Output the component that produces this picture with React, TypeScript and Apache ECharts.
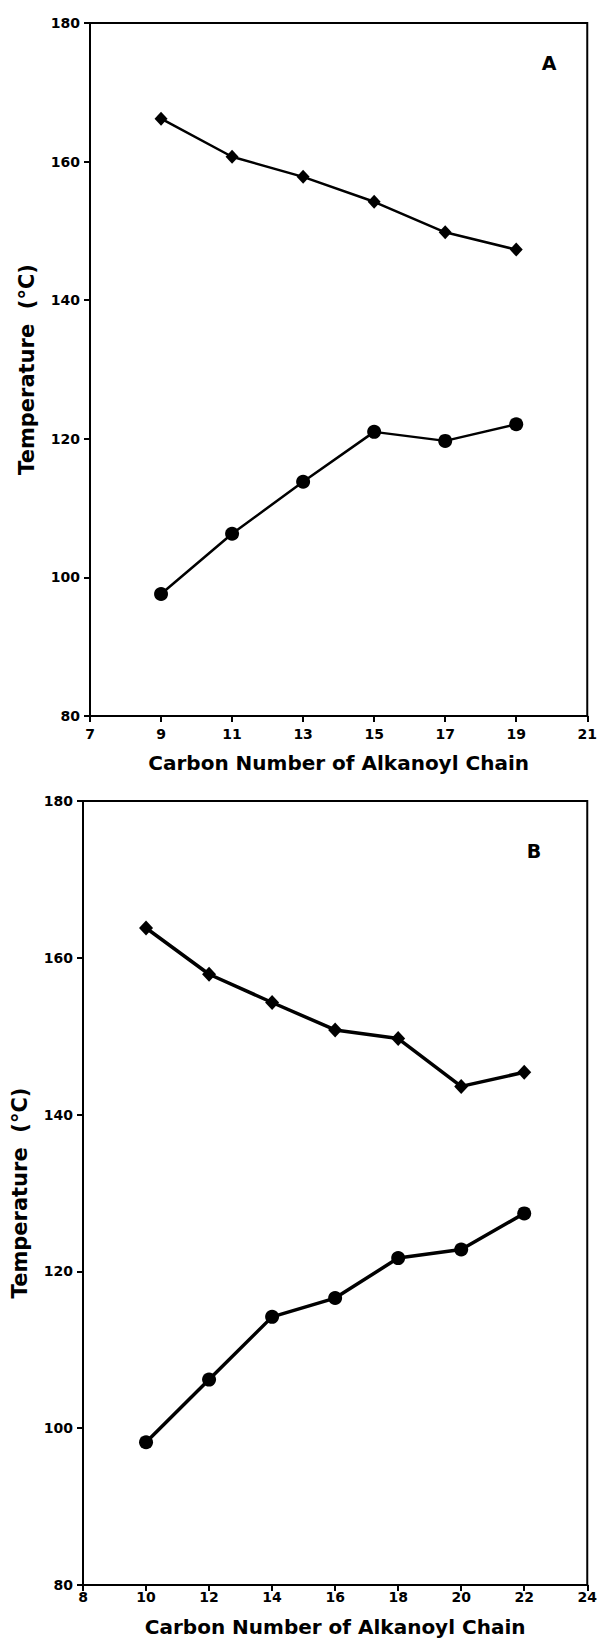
import React, { useEffect, useRef } from "react";
import * as echarts from "echarts";

const carbonA = [9, 11, 13, 15, 17, 19];
const upperA = [166.2, 160.7, 157.8, 154.2, 149.8, 147.3];
const lowerA = [97.6, 106.3, 113.8, 121.0, 119.7, 122.1];

const carbonB = [10, 12, 14, 16, 18, 20, 22];
const upperB = [163.8, 157.9, 154.3, 150.8, 149.7, 143.6, 145.4];
const lowerB = [98.2, 106.2, 114.2, 116.6, 121.7, 122.8, 127.4];

const xTitle = "Carbon Number of Alkanoyl Chain";
const yTitle = "Temperature  (°C)";

const FONT = "DejaVu Sans, Liberation Sans, Arial, sans-serif";

function pairs(xs: number[], ys: number[]) {
  return xs.map((x, i) => [x, ys[i]]);
}

export default function App() {
  const ref = useRef<HTMLDivElement>(null);
  useEffect(() => {
    document.body.style.margin = "0";
    if (!ref.current) return;
    const chart = echarts.init(ref.current, undefined, { renderer: "svg" });
    const axisLine = { lineStyle: { color: "#000", width: 2 } };
    const axisTick = { length: 6, lineStyle: { color: "#000", width: 2 } };
    const label = { color: "#000", fontFamily: FONT, fontWeight: "bold" as const, fontSize: 14 };
    const xNameStyle = { color: "#000", fontFamily: FONT, fontWeight: "bold" as const, fontSize: 20 };
    const yNameStyle = { color: "#000", fontFamily: FONT, fontWeight: "bold" as const, fontSize: 21 };
    const mkX = (gi: number, min: number, max: number, gap: number, margin: number) => ({
      type: "value",
      gridIndex: gi,
      min,
      max,
      interval: 2,
      name: xTitle,
      nameLocation: "middle",
      nameGap: gap,
      nameTextStyle: xNameStyle,
      axisLine,
      axisTick,
      axisLabel: { ...label, margin },
      splitLine: { show: false },
    });
    const mkY = (gi: number, gap: number) => ({
      type: "value",
      gridIndex: gi,
      min: 80,
      max: 180,
      interval: 20,
      name: yTitle,
      nameLocation: "middle",
      nameGap: gap,
      nameTextStyle: yNameStyle,
      axisLine,
      axisTick,
      axisLabel: { ...label, margin: 10 },
      splitLine: { show: false },
    });
    const line = (gi: number, data: number[][], symbol: string, size: any, width: number) => ({
      type: "line",
      xAxisIndex: gi,
      yAxisIndex: gi,
      data,
      symbol,
      symbolSize: size,
      lineStyle: { color: "#000", width },
      itemStyle: { color: "#000" },
    });
    chart.setOption({
      animation: false,
      backgroundColor: "#fff",
      grid: [
        { left: 90, top: 23, right: 12, bottom: 927, show: true, borderColor: "#000", borderWidth: 2 },
        { left: 83, top: 801, right: 9, bottom: 58, show: true, borderColor: "#000", borderWidth: 2 },
      ],
      xAxis: [mkX(0, 7, 21, 37, 11), mkX(1, 8, 24, 32, 5)],
      yAxis: [mkY(0, 53), mkY(1, 53)],
      series: [
        line(0, pairs(carbonA, upperA), "diamond", [13, 14], 2.5),
        line(0, pairs(carbonA, lowerA), "circle", 14, 2.5),
        line(1, pairs(carbonB, upperB), "diamond", [14, 15], 3.5),
        line(1, pairs(carbonB, lowerB), "circle", 14, 3.5),
      ],
      graphic: [
        {
          type: "text",
          x: 549,
          y: 63,
          style: { text: "A", fill: "#000", font: `bold 19px ${FONT}`, align: "center", verticalAlign: "middle" },
        },
        {
          type: "text",
          x: 534,
          y: 851,
          style: { text: "B", fill: "#000", font: `bold 19px ${FONT}`, align: "center", verticalAlign: "middle" },
        },
      ],
    });
    return () => chart.dispose();
  }, []);
  return <div ref={ref} style={{ width: 600, height: 1643 }} />;
}
